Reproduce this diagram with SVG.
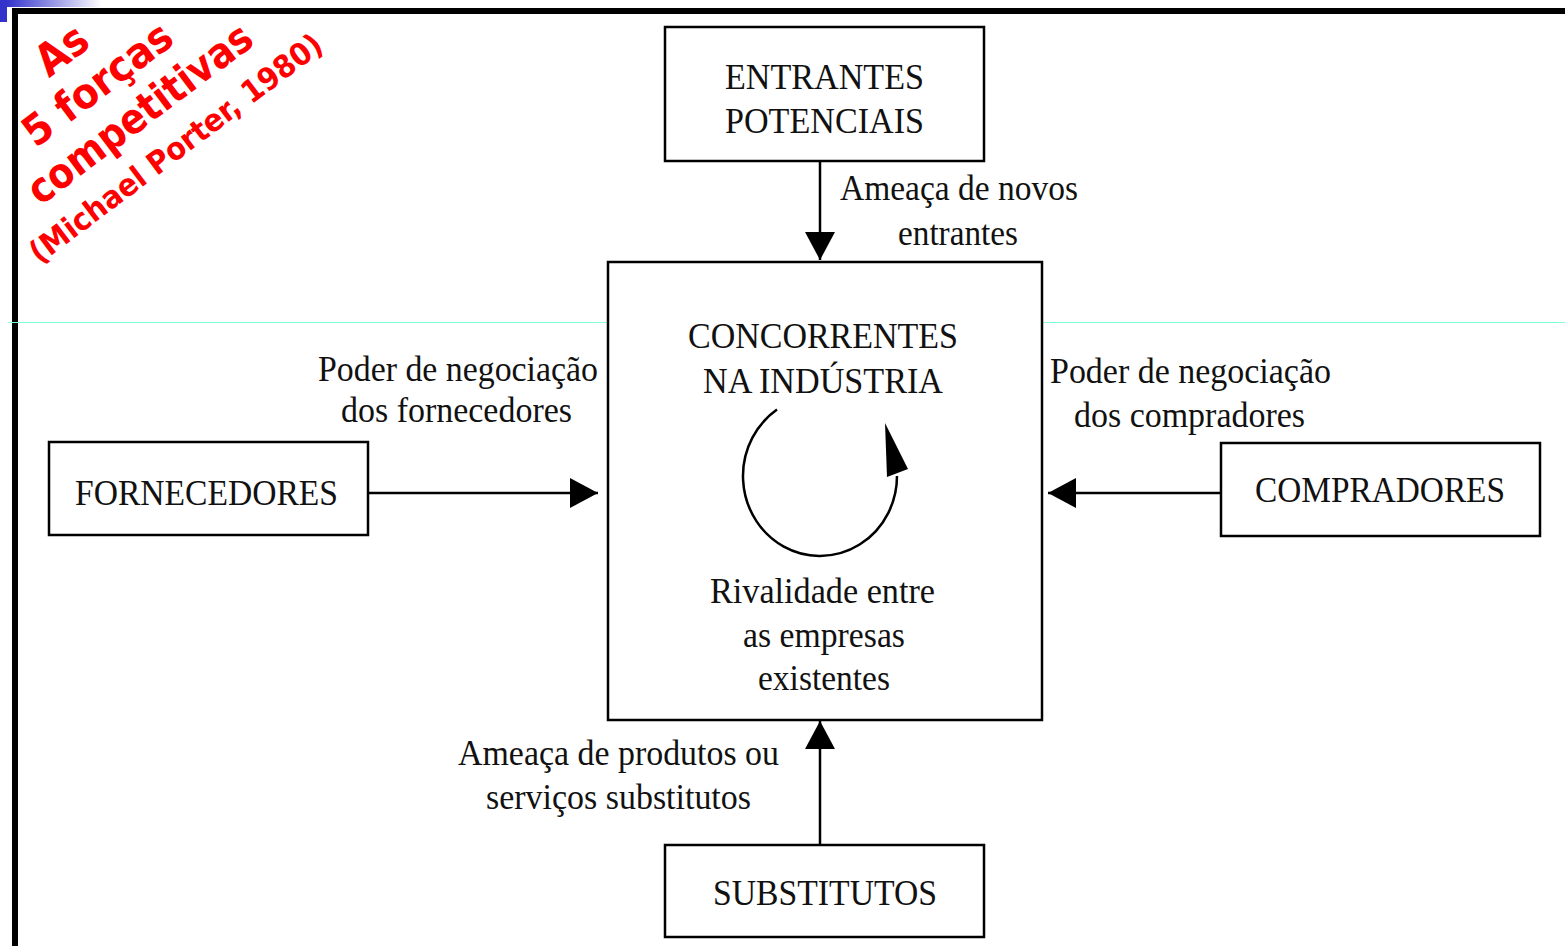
<svg xmlns="http://www.w3.org/2000/svg" width="1565" height="946" viewBox="0 0 1565 946">
<defs>
<linearGradient id="bluefade" x1="0" y1="0" x2="1" y2="0">
<stop offset="0" stop-color="#3333cc"/>
<stop offset="1" stop-color="#ffffff"/>
</linearGradient>
<marker id="arr" markerUnits="userSpaceOnUse" markerWidth="30" markerHeight="32" refX="28" refY="16" orient="auto" viewBox="0 0 30 32">
<path d="M0,1 L28,16 L0,31 Z" fill="#000"/>
</marker>
<style>
.box{fill:#fff;stroke:#000;stroke-width:2.5}
.t{font-family:"Liberation Serif","Times New Roman",serif;font-size:36px;fill:#111}
.c{text-anchor:middle}
.conn{stroke:#000;stroke-width:2.5;fill:none}
.red{font-family:"DejaVu Sans",Verdana,sans-serif;font-weight:bold;fill:#ff0000}
</style>
</defs>
<rect x="0" y="0" width="1565" height="946" fill="#fff"/>
<g id="frame">
<rect x="0" y="0" width="7" height="22" fill="#3333cc"/>
<rect x="7" y="0" width="95" height="7" fill="url(#bluefade)"/>
<rect x="12" y="8" width="1553" height="6" fill="#000"/>
<rect x="12" y="8" width="6" height="938" fill="#000"/>
<line x1="8" y1="322.5" x2="1565" y2="322.5" stroke="#7fffd4" stroke-width="1"/>
</g>
<g id="title" transform="translate(36,207) rotate(-37)">
<text class="red" x="88" y="-95" font-size="44" textLength="54" lengthAdjust="spacingAndGlyphs">As</text>
<text class="red" x="35" y="-47" font-size="42" textLength="176" lengthAdjust="spacingAndGlyphs">5 forças</text>
<text class="red" x="4" y="2" font-size="42" textLength="270" lengthAdjust="spacingAndGlyphs">competitivas</text>
<text class="red" x="-32" y="48" font-size="31" textLength="358" lengthAdjust="spacingAndGlyphs">(Michael Porter, 1980)</text>
</g>
<g id="connectors">
<line class="conn" x1="820" y1="161" x2="820" y2="260" marker-end="url(#arr)"/>
<line class="conn" x1="368" y1="493" x2="598" y2="493" marker-end="url(#arr)"/>
<line class="conn" x1="1221" y1="493" x2="1048" y2="493" marker-end="url(#arr)"/>
<line class="conn" x1="820" y1="845" x2="820" y2="721" marker-end="url(#arr)"/>
</g>
<g id="entrantes">
<rect class="box" x="665" y="27" width="319" height="134"/>
<text class="t c" x="824.5" y="89" textLength="199" lengthAdjust="spacingAndGlyphs">ENTRANTES</text>
<text class="t c" x="824.5" y="133" textLength="199" lengthAdjust="spacingAndGlyphs">POTENCIAIS</text>
</g>
<g id="label-entrantes">
<text class="t" x="840" y="200" textLength="238" lengthAdjust="spacingAndGlyphs">Ameaça de novos</text>
<text class="t" x="898" y="245" textLength="120" lengthAdjust="spacingAndGlyphs">entrantes</text>
</g>
<g id="concorrentes">
<rect class="box" x="608" y="262" width="434" height="458"/>
<text class="t c" x="823" y="348" textLength="270" lengthAdjust="spacingAndGlyphs">CONCORRENTES</text>
<text class="t c" x="823" y="393" textLength="240" lengthAdjust="spacingAndGlyphs">NA INDÚSTRIA</text>
<path class="conn" d="M777,409.6 A77,80 0 1 0 897,476" stroke-width="2"/>
<polygon points="885,423 908,469 887,477" fill="#000"/>
<text class="t c" x="822.5" y="603" textLength="225" lengthAdjust="spacingAndGlyphs">Rivalidade entre</text>
<text class="t c" x="824" y="647" textLength="162" lengthAdjust="spacingAndGlyphs">as empresas</text>
<text class="t c" x="824" y="690" textLength="132" lengthAdjust="spacingAndGlyphs">existentes</text>
</g>
<g id="fornecedores">
<rect class="box" x="49" y="442" width="319" height="93"/>
<text class="t" x="75" y="505" textLength="263" lengthAdjust="spacingAndGlyphs">FORNECEDORES</text>
</g>
<g id="label-fornecedores">
<text class="t" x="318" y="381" textLength="280" lengthAdjust="spacingAndGlyphs">Poder de negociação</text>
<text class="t" x="341" y="422" textLength="231" lengthAdjust="spacingAndGlyphs">dos fornecedores</text>
</g>
<g id="compradores">
<rect class="box" x="1221" y="443" width="319" height="93"/>
<text class="t" x="1255" y="502" textLength="250" lengthAdjust="spacingAndGlyphs">COMPRADORES</text>
</g>
<g id="label-compradores">
<text class="t" x="1050" y="383" textLength="281" lengthAdjust="spacingAndGlyphs">Poder de negociação</text>
<text class="t" x="1074" y="427" textLength="231" lengthAdjust="spacingAndGlyphs">dos compradores</text>
</g>
<g id="substitutos">
<rect class="box" x="665" y="845" width="319" height="92"/>
<text class="t" x="713" y="905" textLength="224" lengthAdjust="spacingAndGlyphs">SUBSTITUTOS</text>
</g>
<g id="label-substitutos">
<text class="t" x="458" y="765" textLength="321" lengthAdjust="spacingAndGlyphs">Ameaça de produtos ou</text>
<text class="t" x="486" y="809" textLength="265" lengthAdjust="spacingAndGlyphs">serviços substitutos</text>
</g>
</svg>
